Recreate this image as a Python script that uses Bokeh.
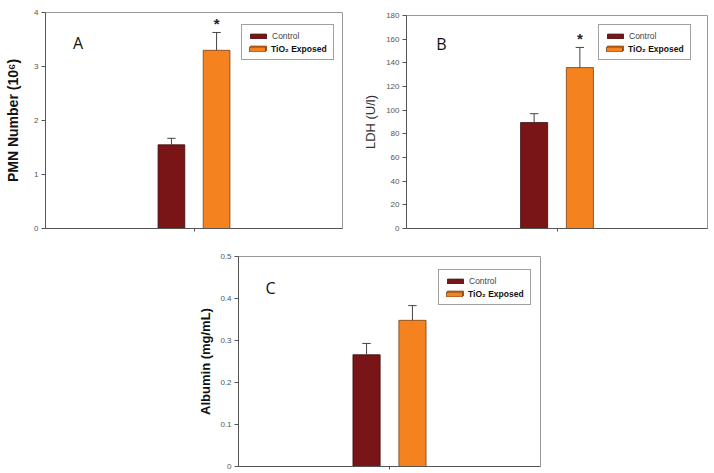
from bokeh.plotting import figure
from bokeh.models import Range1d, FixedTicker, Legend, LegendItem, ColumnDataSource, Spacer
from bokeh.layouts import row, column
from bokeh.core.properties import value
from bokeh.embed import file_html
from bokeh.resources import INLINE

# ---- data ----
groups = ["Control", "TiO₂ Exposed"]

pmn_mean = [1.55, 3.30]
pmn_err = [0.12, 0.33]
pmn_sig = [False, True]
pmn_ticks = [0, 1, 2, 3, 4]

ldh_mean = [89.5, 136.0]
ldh_err = [7.5, 17.0]
ldh_sig = [False, True]
ldh_ticks = [0, 20, 40, 60, 80, 100, 120, 140, 160, 180]

alb_mean = [0.266, 0.348]
alb_err = [0.027, 0.035]
alb_sig = [False, False]
alb_ticks = [0.0, 0.1, 0.2, 0.3, 0.4, 0.5]

# ---- style ----
COLORS = ["#7A1517", "#F4821F"]
EDGES = ["#3a0a0a", "#7a4012"]
OFFSETS = [-0.076, 0.076]
BAR_W = 0.09
CAP = 0.014
FONT = "Liberation Sans"


def panel(means, errs, sig, ticks, ylab, ylab_bold, ylab_size, ylab_standoff,
          letter, letter_frac, leg_xy, width, height, mb):
    p = figure(width=width, height=height, x_range=Range1d(0, 1),
               y_range=Range1d(ticks[0], ticks[-1]),
               output_backend="svg", toolbar_location=None,
               min_border_left=mb[0], min_border_right=mb[1],
               min_border_top=mb[2], min_border_bottom=mb[3])
    p.grid.visible = False
    p.outline_line_color = "#999999"
    p.background_fill_color = "white"
    p.border_fill_color = "white"

    xs = [0.5 + o for o in OFFSETS]
    rs = []
    for i in range(len(means)):
        src = ColumnDataSource(dict(x=[xs[i]], top=[means[i]]))
        r = p.vbar(x="x", top="top", bottom=0, width=BAR_W, source=src,
                   fill_color=COLORS[i], line_color=EDGES[i], line_width=0.8)
        rs.append(r)
    tops = [m + e for m, e in zip(means, errs)]
    p.segment(x0=xs, y0=means, x1=xs, y1=tops, line_color="#444444", line_width=1)
    p.segment(x0=[x - CAP for x in xs], y0=tops, x1=[x + CAP for x in xs], y1=tops,
              line_color="#444444", line_width=1)
    sx = [x for x, s in zip(xs, sig) if s]
    sy = [t for t, s in zip(tops, sig) if s]
    if sx:
        p.text(x=sx, y=sy, text=["*"] * len(sx), text_align="center",
               text_baseline="bottom", text_font=value(FONT),
               text_font_size="15px", text_font_style="bold", text_color="#222222")

    yr = ticks[-1] - ticks[0]
    p.text(x=[letter_frac[0]], y=[ticks[0] + letter_frac[1] * yr], text=[letter],
           text_align="center", text_baseline="middle", text_font=value("Open Sans"),
           text_font_size="16px", text_color="#111111")

    # axes
    p.yaxis.ticker = FixedTicker(ticks=ticks)
    p.yaxis.major_label_text_font = FONT
    p.yaxis.major_label_text_font_size = "8px"
    p.yaxis.major_label_text_color = "#555555"
    p.yaxis.major_tick_out = 4
    p.yaxis.major_tick_in = 0
    p.yaxis.minor_tick_line_color = None
    p.yaxis.major_label_standoff = 3
    p.yaxis.axis_line_color = "#555555"
    p.yaxis.major_tick_line_color = "#555555"
    p.yaxis.axis_label = ylab
    p.yaxis.axis_label_text_font = FONT
    p.yaxis.axis_label_text_font_size = ylab_size
    p.yaxis.axis_label_text_font_style = "bold" if ylab_bold else "normal"
    p.yaxis.axis_label_text_color = "#111111" if ylab_bold else "#333333"
    p.yaxis.axis_label_standoff = ylab_standoff

    p.xaxis.ticker = FixedTicker(ticks=[0.5])
    p.xaxis.major_label_overrides = {0.5: ""}
    p.xaxis.major_label_text_font_size = "8px"
    p.xaxis.major_label_standoff = 0
    p.xaxis.major_tick_out = 3
    p.xaxis.major_tick_in = 0
    p.xaxis.minor_tick_line_color = None
    p.xaxis.axis_line_color = "#555555"
    p.xaxis.major_tick_line_color = "#555555"

    common = dict(location=leg_xy, margin=0, padding=6, spacing=2,
                  glyph_width=20, glyph_height=6, label_standoff=4,
                  label_text_font=FONT, label_text_font_size="8.5px",
                  label_height=10, border_line_width=1)
    leg1 = Legend(items=[LegendItem(label=groups[0], renderers=[rs[0]]),
                         LegendItem(label=" ", renderers=[rs[1]])],
                  border_line_color="#444444",
                  background_fill_color="white", background_fill_alpha=1,
                  label_text_color="#444444", label_width=55, **common)
    leg2 = Legend(items=[LegendItem(label=groups[1], renderers=[rs[1]])],
                  border_line_color="white", border_line_alpha=0,
                  background_fill_alpha=0,
                  label_text_color="#111111", label_text_font_style="bold", **common)
    p.add_layout(leg1)
    p.add_layout(leg2)
    return p


pa = panel(pmn_mean, pmn_err, pmn_sig, pmn_ticks, "PMN Number (10⁶)", True, "14px", 10,
           "A", (0.11, 0.86), (196, 168), 360, 240, (45, 18, 12, 12))
pb = panel(ldh_mean, ldh_err, ldh_sig, ldh_ticks, "LDH (U/l)", False, "13px", 5,
           "B", (0.116, 0.866), (192, 168), 354, 240, (45, 7, 15, 12))
pc = panel(alb_mean, alb_err, alb_sig, alb_ticks, "Albumin (mg/mL)", True, "13px", 4,
           "C", (0.106, 0.848), (200, 161), 355, 233, (43, 10, 16, 7))

layout = column(row(column(pa), column(pb)), row(Spacer(width=195, height=233), pc))

open("out.html", "w").write(file_html(layout, INLINE))
